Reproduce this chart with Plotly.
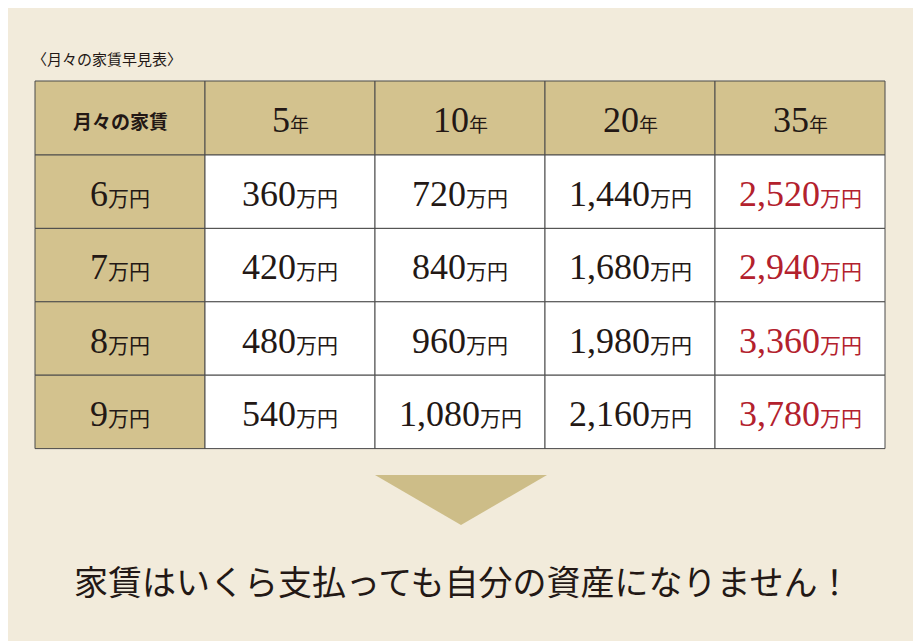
import plotly.graph_objects as go

title = "〈月々の家賃早見表〉"
corner = "月々の家賃"
years = ["5", "10", "20", "35"]
rents = ["6", "7", "8", "9"]
values = [
    ["360", "720", "1,440", "2,520"],
    ["420", "840", "1,680", "2,940"],
    ["480", "960", "1,980", "3,360"],
    ["540", "1,080", "2,160", "3,780"],
]
footer = "家賃はいくら支払っても自分の資産になりません！"

BG = "#f2ebdb"
TAN = "#d3c28e"
RED = "#b3212d"
INK = "#231815"
LINE = "#4a4a4a"
SERIF = "Liberation Serif, DejaVu Serif, serif"
JP = "Noto Sans CJK JP"

W, H = 921, 641
OFF = 8  # page body margin compensation
x0, cw = 35, 170
y0, hh, rh = 81, 74, 73.4

fig = go.Figure()
fig.add_trace(go.Scatter(x=[0], y=[0], mode="markers", marker=dict(opacity=0), hoverinfo="skip", showlegend=False))

shapes, ann = [], []
ncols = len(years) + 1
nrows = len(rents) + 1
def rowtop(r):
    return y0 if r == 0 else y0 + hh + (r - 1) * rh
def rowh(r):
    return hh if r == 0 else rh

for r in range(nrows):
    for c in range(ncols):
        fill = TAN if (r == 0 or c == 0) else "white"
        shapes.append(dict(type="rect", x0=x0 + c * cw, x1=x0 + (c + 1) * cw,
                           y0=rowtop(r), y1=rowtop(r) + rowh(r), fillcolor=fill,
                           line=dict(color=LINE, width=1), layer="below"))

def add(c, r, text, color=INK):
    ann.append(dict(x=x0 + c * cw + cw / 2, y=rowtop(r) + rowh(r) / 2 + 2, text=text,
                    showarrow=False, font=dict(color=color, family=SERIF, size=36),
                    xanchor="center", yanchor="middle"))

add(0, 0, f"<b><span style='font-family:{JP};font-size:19px'>{corner}</span></b>")
for i, y in enumerate(years):
    add(i + 1, 0, f"{y}<span style='font-family:{JP};font-size:19px'>年</span>")
for j, rv in enumerate(rents):
    add(0, j + 1, f"{rv}<span style='font-family:{JP};font-size:21px'>万円</span>")
    for i, v in enumerate(values[j]):
        col = RED if i == len(years) - 1 else INK
        add(i + 1, j + 1, f"{v}<span style='font-family:{JP};font-size:21px'>万円</span>", col)

ann.append(dict(x=30, y=58, text=title, showarrow=False, xanchor="left", yanchor="middle",
                font=dict(family=JP, size=15, color=INK)))
ann.append(dict(x=W / 2 + 2, y=580, text=footer, showarrow=False, xanchor="center", yanchor="middle",
                font=dict(family=JP, size=34, color=INK)))

tx = x0 + 2 * cw
shapes.append(dict(type="path", path=f"M {tx} 475 L {tx + 172} 475 L {tx + 86} 525 Z",
                   fillcolor="#cdbd88", line=dict(width=0)))

fig.update_layout(width=W, height=H, margin=dict(l=0, r=0, t=0, b=0),
                  paper_bgcolor=BG, plot_bgcolor=BG, shapes=shapes, annotations=ann,
                  xaxis=dict(range=[OFF, W + OFF], visible=False, fixedrange=True),
                  yaxis=dict(range=[H + OFF, OFF], visible=False, fixedrange=True))
fig.write_html("out.html", config={"displayModeBar": False})
